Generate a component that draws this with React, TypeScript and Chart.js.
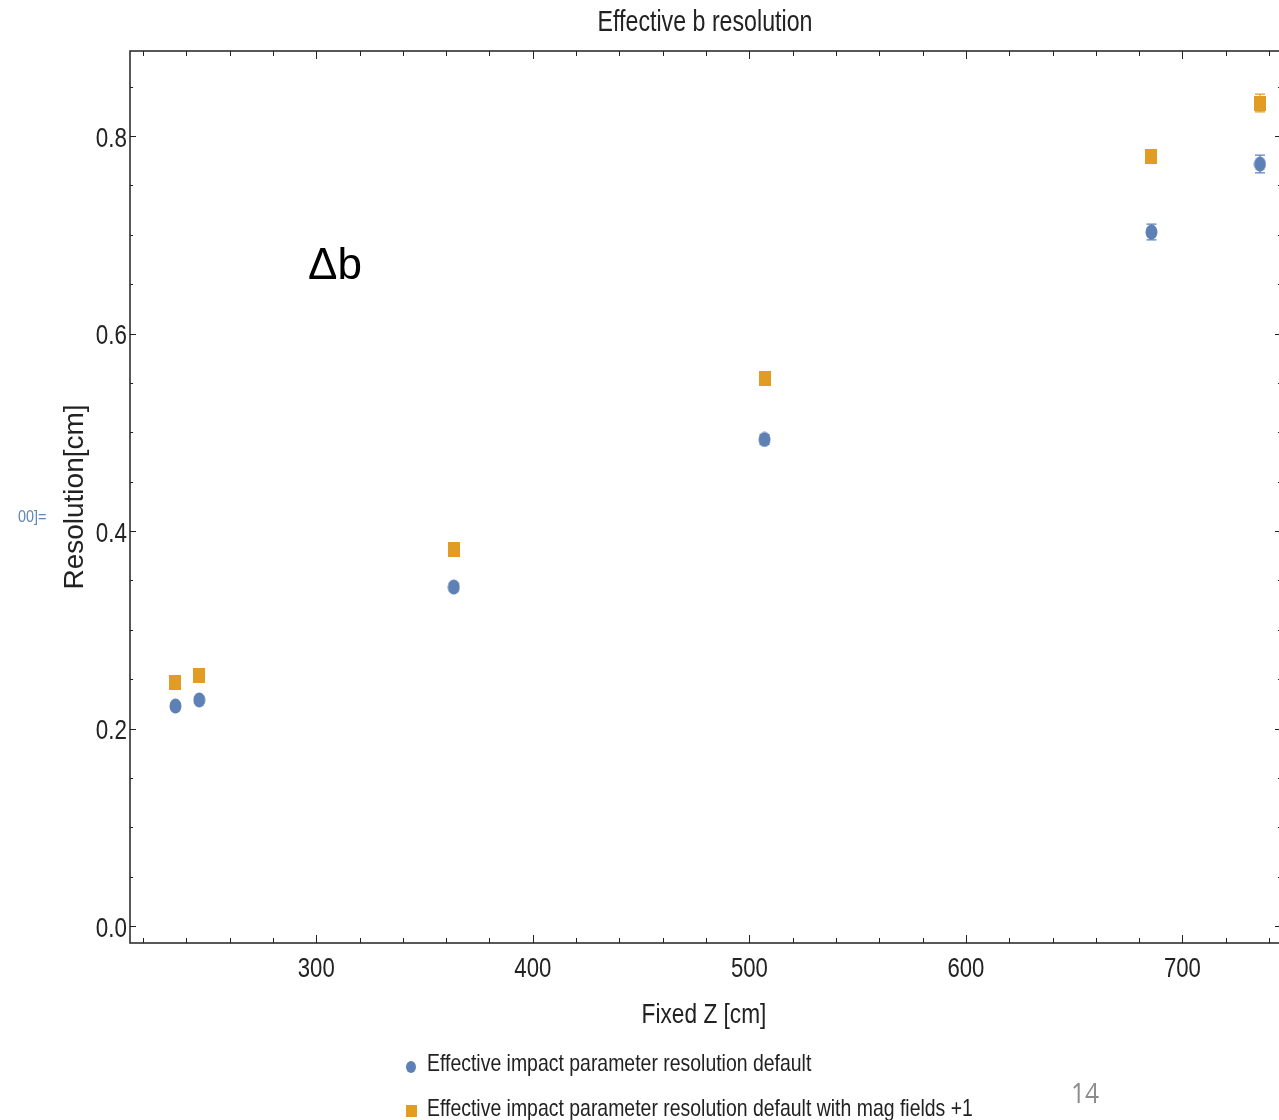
import React, { useEffect, useRef } from 'react';
import { Chart, registerables } from 'chart.js';

Chart.register(...registerables);

// ---- data ----
const zPositions = [235, 246, 363.5, 507, 685.7, 735.8];
const resDefault = [0.2228, 0.2289, 0.3433, 0.4927, 0.7028, 0.7716];
const resMagField = [0.2471, 0.2532, 0.3813, 0.5544, 0.7792, 0.8334];
const errDefault = [0.003, 0.003, 0.004, 0.005, 0.008, 0.009];
const errMagField = [0.003, 0.003, 0.004, 0.005, 0.007, 0.009];
const seriesLabels = [
  'Effective impact parameter resolution default',
  'Effective impact parameter resolution default with mag fields +1',
];
const xMajorTicks = [300, 400, 500, 600, 700];
const xTickLabels = ['300', '400', '500', '600', '700'];
const yMajorTicks = [0.0, 0.2, 0.4, 0.6, 0.8];
const yTickLabels = ['0.0', '0.2', '0.4', '0.6', '0.8'];
const xMinorStep = 20;
const yMinorStep = 0.05;
const titleText = 'Effective b resolution';
const xTitle = 'Fixed Z [cm]';
const yTitle = 'Resolution[cm]';
const annotationText = '\u0394b';
const cellLabel = '00]=';
const pageNumber = '14';

const BLUE = '#5E81B5';
const ORANGE = '#E19C24';
const INK = '#222222';
const SANS = '"Liberation Sans", Arial, sans-serif';

function makeEllipse(w: number, h: number, color: string) {
  const c = document.createElement('canvas');
  c.width = w;
  c.height = h;
  const ctx = c.getContext('2d')!;
  ctx.fillStyle = color;
  ctx.beginPath();
  ctx.ellipse(w / 2, h / 2, w / 2 - 0.5, h / 2 - 0.5, 0, 0, Math.PI * 2);
  ctx.fill();
  return c;
}

function makeRect(w: number, h: number, color: string) {
  const c = document.createElement('canvas');
  c.width = w;
  c.height = h;
  const ctx = c.getContext('2d')!;
  ctx.fillStyle = color;
  ctx.fillRect(0, 0, w, h);
  return c;
}

// horizontally condensed real text
function narrowText(
  ctx: CanvasRenderingContext2D,
  text: string,
  x: number,
  y: number,
  size: number,
  sx: number,
  align: CanvasTextAlign,
  color: string,
  family: string = SANS
) {
  ctx.save();
  ctx.fillStyle = color;
  ctx.font = `${size}px ${family}`;
  ctx.textAlign = align;
  ctx.textBaseline = 'alphabetic';
  ctx.translate(x, y);
  ctx.scale(sx, 1);
  ctx.fillText(text, 0, 0);
  ctx.restore();
}

const framePlugin = {
  id: 'mmaFrame',
  beforeDatasetsDraw(chart: any) {
    const { ctx, chartArea: a, scales } = chart;
    const xs = scales.x;
    const ys = scales.y;
    ctx.save();
    ctx.strokeStyle = INK;
    ctx.lineWidth = 1.5;
    ctx.strokeRect(a.left, a.top, a.right - a.left, a.bottom - a.top);
    ctx.lineWidth = 1;
    // x ticks (bottom & top)
    const xStart = Math.ceil(xs.min / xMinorStep) * xMinorStep;
    for (let v = xStart; v <= xs.max; v += xMinorStep) {
      const px = Math.round(xs.getPixelForValue(v)) + 0.5;
      const major = xMajorTicks.includes(v);
      const len = major ? 8 : 5;
      ctx.beginPath();
      ctx.moveTo(px, a.bottom);
      ctx.lineTo(px, a.bottom - len);
      ctx.moveTo(px, a.top);
      ctx.lineTo(px, a.top + len);
      ctx.stroke();
    }
    // y ticks (left & right)
    const yStart = Math.ceil(ys.min / yMinorStep);
    for (let i = yStart; i * yMinorStep <= ys.max; i++) {
      const v = i * yMinorStep;
      const py = Math.round(ys.getPixelForValue(v)) + 0.5;
      const major = i % 4 === 0;
      const len = major ? 6 : 3;
      ctx.beginPath();
      ctx.moveTo(a.left, py);
      ctx.lineTo(a.left + len, py);
      ctx.moveTo(a.right, py);
      ctx.lineTo(a.right - len, py);
      ctx.stroke();
    }
    // tick labels through the scales
    xs.ticks.forEach((t: any, i: number) => {
      narrowText(ctx, xTickLabels[i], xs.getPixelForValue(t.value), a.bottom + 34, 28, 0.79, 'center', INK);
    });
    ys.ticks.forEach((t: any, i: number) => {
      narrowText(ctx, yTickLabels[i], a.left - 3, ys.getPixelForValue(t.value) + 10.5, 28, 0.8, 'right', INK);
    });
    // error bars
    const errs = [errDefault, errMagField];
    chart.data.datasets.forEach((ds: any, di: number) => {
      ctx.strokeStyle = ds.borderColor;
      ctx.lineWidth = 1.2;
      ds.data.forEach((p: any, i: number) => {
        const px = xs.getPixelForValue(p.x);
        const y1 = ys.getPixelForValue(p.y + errs[di][i]);
        const y2 = ys.getPixelForValue(p.y - errs[di][i]);
        ctx.beginPath();
        ctx.moveTo(px, y1);
        ctx.lineTo(px, y2);
        ctx.moveTo(px - 5, y1);
        ctx.lineTo(px + 5, y1);
        ctx.moveTo(px - 5, y2);
        ctx.lineTo(px + 5, y2);
        ctx.stroke();
      });
    });
    ctx.restore();
  },
  afterDraw(chart: any) {
    const { ctx } = chart;
    narrowText(ctx, titleText, 705, 31, 29, 0.8, 'center', INK);
    narrowText(ctx, xTitle, 704, 1023, 28, 0.81, 'center', INK);
    ctx.save();
    ctx.translate(83, 497);
    ctx.rotate(-Math.PI / 2);
    ctx.fillStyle = INK;
    ctx.font = `28px ${SANS}`;
    ctx.textAlign = 'center';
    ctx.textBaseline = 'alphabetic';
    ctx.fillText(yTitle, 0, 0);
    ctx.restore();
    narrowText(ctx, annotationText, 308, 279, 44, 1, 'left', '#000000');
    narrowText(ctx, cellLabel, 18, 522, 16, 0.9, 'left', '#5b87b3');
    narrowText(ctx, pageNumber, 1071, 1103, 28, 0.88, 'left', '#8c8c8c', `"Open Sans", ${SANS}`);
    const ds = chart.data.datasets;
    ctx.save();
    ctx.fillStyle = ds[0].backgroundColor;
    ctx.beginPath();
    ctx.ellipse(411, 1067, 5, 6, 0, 0, Math.PI * 2);
    ctx.fill();
    ctx.fillStyle = ds[1].backgroundColor;
    ctx.fillRect(406, 1105, 11, 12);
    ctx.restore();
    narrowText(ctx, seriesLabels[0], 427, 1071, 24, 0.81, 'left', INK);
    narrowText(ctx, seriesLabels[1], 427, 1116, 24, 0.81, 'left', INK);
  },
};

export default function App() {
  const ref = useRef<HTMLCanvasElement | null>(null);

  useEffect(() => {
    if (!ref.current) return;
    const blueMarker = makeEllipse(13, 16, BLUE);
    const orangeMarker = makeRect(12, 15, ORANGE);
    const chart = new Chart(ref.current, {
      type: 'scatter',
      data: {
        datasets: [
          {
            label: seriesLabels[0],
            data: zPositions.map((x, i) => ({ x, y: resDefault[i] })),
            backgroundColor: BLUE,
            borderColor: BLUE,
            pointStyle: blueMarker as any,
            pointRadius: 6,
          },
          {
            label: seriesLabels[1],
            data: zPositions.map((x, i) => ({ x, y: resMagField[i] })),
            backgroundColor: ORANGE,
            borderColor: ORANGE,
            pointStyle: orangeMarker as any,
            pointRadius: 6,
          },
        ],
      },
      options: {
        animation: false,
        responsive: false,
        layout: { autoPadding: false, padding: { left: 0, top: 51, right: 2, bottom: 0 } },
        plugins: {
          legend: { display: false },
          title: { display: false },
          tooltip: { enabled: false },
        },
        scales: {
          x: {
            type: 'linear',
            min: 214,
            max: 745.5,
            grid: { display: false, drawTicks: false },
            border: { display: false },
            afterBuildTicks: (s: any) => {
              s.ticks = xMajorTicks.map((v) => ({ value: v }));
            },
            afterFit: (s: any) => {
              s.height = 177;
              s.paddingLeft = 0;
              s.paddingRight = 0;
            },
            ticks: { display: false },
          },
          y: {
            type: 'linear',
            min: -0.0172,
            max: 0.8861,
            grid: { display: false, drawTicks: false },
            border: { display: false },
            afterBuildTicks: (s: any) => {
              s.ticks = yMajorTicks.map((v) => ({ value: v }));
            },
            afterFit: (s: any) => {
              s.width = 130;
              s.paddingTop = 0;
              s.paddingBottom = 0;
            },
            ticks: { display: false },
          },
        },
      },
      plugins: [framePlugin],
    });
    return () => chart.destroy();
  }, []);

  return (
    <div
      style={{
        position: 'absolute',
        left: 0,
        top: 0,
        width: 1279,
        height: 1120,
        overflow: 'hidden',
        background: '#ffffff',
      }}
    >
      <canvas ref={ref} width={1283} height={1120} style={{ display: 'block', width: 1283, height: 1120 }} />
    </div>
  );
}
